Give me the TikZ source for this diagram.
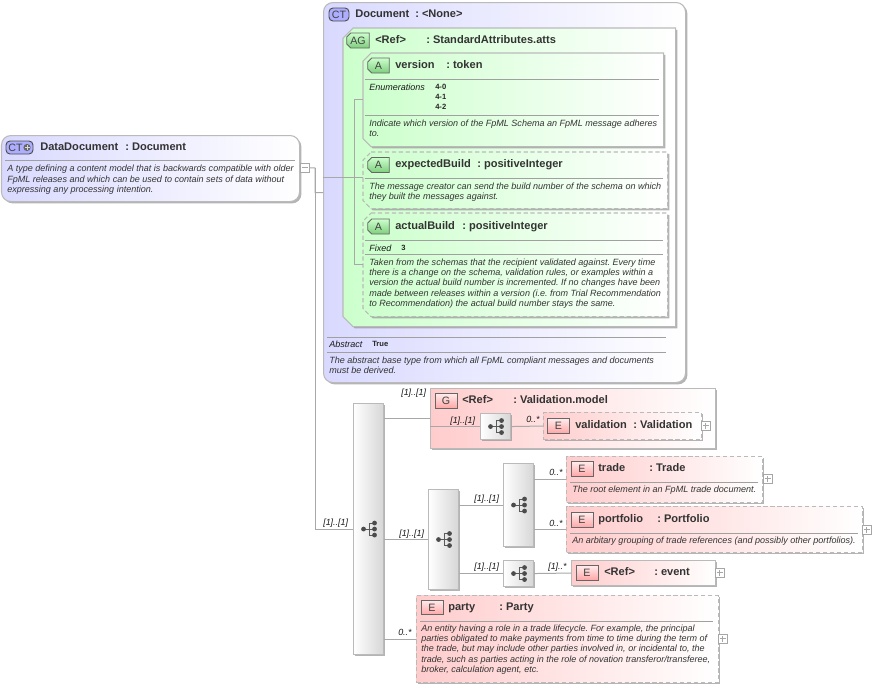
\documentclass[tikz,border=0pt]{standalone}
\usepackage{fontspec}
\setmainfont{Liberation Sans}
\usetikzlibrary{shadows}
\frenchspacing
\definecolor{titlegray}{HTML}{333333}
\definecolor{rulegray}{HTML}{A0A0A0}
\definecolor{linegray}{HTML}{A8A8A8}
\definecolor{ctblue}{HTML}{D9D9FF}
\definecolor{agreen}{HTML}{CCFFCC}
\definecolor{epink}{HTML}{FFCCCC}
\tikzset{
	sized/.style 2 args={minimum width=#1*.75pt,minimum height=#2*.75pt,inner sep=0pt,anchor=north west},
	boxshadow/.style={drop shadow={shadow xshift=1.4pt,shadow yshift=-1.4pt,fill=black!45,opacity=.65}},
	outline/.style={draw=black!27,line width=.8pt},
	optional/.style={dash pattern=on 3.2pt off 2pt},
	ctbox/.style={outline,rounded corners=7pt,left color=ctblue,right color=white,boxshadow},
	agbox/.style={outline,left color=agreen,right color=white,boxshadow},
	elbox/.style={outline,left color=epink,right color=white,boxshadow},
	seqbox/.style={draw=black!27,line width=.8pt,left color=white,right color=black!16,boxshadow},
	conn/.style={draw=linegray,line width=.75pt},
	hrule/.style={draw=rulegray,line width=.75pt},
	badgetext/.style={inner sep=0pt,font=\fontsize{8}{9}\selectfont,text=black!75},
	badge/.style 2 args={sized={#1}{#2},anchor=center,line width=.7pt,badgetext},
	ctbadge/.style={badge={#1}{13},draw=black!70,rounded corners=3pt,fill=ctblue!80!blue},
	agbadge/.style={draw=black!60,line width=.7pt,top color=agreen,bottom color=green!45!gray!70},
	ebadge/.style={badge={22}{14.5},draw=black!60,top color=epink!40,bottom color=red!35!white},
	titletext/.style={anchor=base west,inner sep=0pt,font=\fontsize{8.3}{10}\bfseries\selectfont,text=titlegray},
	desctext/.style={anchor=north west,inner sep=0pt,align=left,font=\fontsize{6.78}{7.75}\itshape\selectfont,text=black!80},
	keytext/.style={anchor=base west,inner sep=0pt,font=\fontsize{6.75}{7.75}\itshape\selectfont,text=black!90},
	valtext/.style={anchor=north west,inner sep=0pt,align=left,font=\fontsize{5.7}{7.5}\bfseries\selectfont,text=black!85},
	cardtext/.style={anchor=base west,inner sep=0pt,font=\fontsize{6.7}{8}\itshape\selectfont,text=black!90},
	expander/.style={draw=black!35,line width=.6pt,fill=white,minimum size=6.6pt,inner sep=0pt,anchor=north west},
	plusbox/.style={expander,path picture={
		\draw[black!35,line width=.6pt] ([xshift=-2.2pt]path picture bounding box.center) -- ([xshift=2.2pt]path picture bounding box.center)
		([yshift=-2.2pt]path picture bounding box.center) -- ([yshift=2.2pt]path picture bounding box.center);}},
	minusbox/.style={expander,path picture={
		\draw[black!35,line width=.6pt] ([xshift=-2.2pt]path picture bounding box.center) -- ([xshift=2.2pt]path picture bounding box.center);}},
	seqicon/.pic={
		\draw[black!65,line width=.6pt] (-5,0) -- (1,0) (6,-6) -- (1,-6) -- (1,6) -- (6,6) (1,0) -- (6,0);
		\fill[black!70] (-5,0) circle (1.8pt);
		\foreach \n in {-6,0,6}
			\fill[black!70] (6,\n) circle (1.8pt);
	}
}
% rectangle with its two left corners cut off: style, node, size of the cut in pt
\newcommand{\chambox}[3]{
	\path[#1] ([xshift=#3pt]#2.north west) -- (#2.north east) -- (#2.south east) -- ([xshift=#3pt]#2.south west)
		-- ([yshift=#3pt]#2.south west) -- ([yshift=-#3pt]#2.north west) -- cycle;
}
\begin{document}
\begin{tikzpicture}[x=.75pt,y=-.75pt]
	\useasboundingbox (0,0) rectangle (872,687);

	% boxes
	\node[ctbox,sized={298}{66}] (datadoc) at (1,135) {};
	\node[ctbox,sized={362}{380}] (document) at (323,2) {};
	\node[sized={332}{298}] (atts) at (343,28) {};
	\chambox{agbox}{atts}{7.5}
	\node[sized={300}{93}] (version) at (363,53) {};
	\chambox{agbox}{version}{6}
	\node[sized={304}{56}] (expected) at (363,152) {};
	\chambox{agbox,optional}{expected}{6}
	\node[sized={304}{103}] (actual) at (363,213) {};
	\chambox{agbox,optional}{actual}{6}
	\node[elbox,sized={285}{60}] (valmodel) at (430,388) {};
	\node[elbox,optional,sized={158}{27}] (validation) at (543,412) {};
	\node[elbox,optional,sized={196}{46}] (trade) at (566,456) {};
	\node[elbox,optional,sized={296}{46}] (portfolio) at (566,506) {};
	\node[elbox,sized={144}{25}] (event) at (571,560) {};
	\node[elbox,optional,sized={302}{87}] (party) at (416,595) {};

	% sequence blocks
	\node[seqbox,sized={30}{251}] (mainseq) at (353,403) {};
	\node[seqbox,sized={30}{26}] (valseq) at (480,413) {};
	\node[seqbox,sized={30}{100}] (choiceseq) at (428,489) {};
	\node[seqbox,sized={30}{83}] (tradeseq) at (503,463) {};
	\node[seqbox,sized={30}{26}] (eventseq) at (503,560) {};
	\foreach \n in {mainseq,valseq,choiceseq,tradeseq,eventseq}
		\pic at (\n.center) {seqicon};

	% expand boxes
	\node[minusbox] (docminus) at (300,163) {};
	\node[plusbox] (validationplus) at (701,421) {};
	\node[plusbox] (tradeplus) at (763,474) {};
	\node[plusbox] (portfolioplus) at (862,525) {};
	\node[plusbox] (eventplus) at (715,568) {};
	\node[plusbox] (partyplus) at (718,634) {};

	% connectors
	\coordinate (docdrop) at (315,168);
	\coordinate (attsjoin) at (354,177.5);
	\draw[conn] (docminus.east) -- (docdrop) |- (document.west);
	\draw[conn] (docdrop) |- (mainseq.west);
	\draw[conn] (document.west |- attsjoin) -- (attsjoin);
	\draw[conn] (version.west) -| (attsjoin);
	\draw[conn] (attsjoin) |- (actual.west);
	\draw[conn] (attsjoin) -- (expected.west |- attsjoin);
	\draw[conn] (mainseq.east |- valmodel.west) -- (valmodel.west);
	\draw[conn] (valmodel.west |- valseq.west) -- (valseq.west);
	\draw[conn] (valseq.east) -- (validation.west);
	\draw[conn] (mainseq.east |- choiceseq.west) -- (choiceseq.west);
	\draw[conn] (mainseq.east |- party.west) -- (party.west);
	\draw[conn] (choiceseq.east |- tradeseq.west) -- (tradeseq.west);
	\draw[conn] (choiceseq.east |- eventseq.west) -- (eventseq.west);
	\draw[conn] (tradeseq.east |- trade.west) -- (trade.west);
	\draw[conn] (tradeseq.east |- portfolio.west) -- (portfolio.west);
	\draw[conn] (eventseq.east) -- (event.west);

	% rules
	\draw[hrule] (5,160) -- (295,160);
	\draw[hrule] (365,79) -- (659,79);
	\draw[hrule] (365,115.5) -- (659,115.5);
	\draw[hrule] (365,178) -- (663,178);
	\draw[hrule] (365,240.5) -- (663,240.5);
	\draw[hrule] (365,254.5) -- (663,254.5);
	\draw[hrule] (327,337) -- (666,337);
	\draw[hrule] (327,352) -- (666,352);
	\draw[hrule] (570,482) -- (758,482);
	\draw[hrule] (570,533) -- (858,533);
	\draw[hrule] (420,621) -- (713,621);

	% badges
	\node[ctbadge=27] (datadocbadge) at (19.5,147.5) {CT\kern6pt};
	\fill[black!60] (27,147.5) circle (2.7pt);
	\draw[black!15,line width=.4pt] (24.5,147.5) -- (29.5,147.5) (27,145) -- (27,150);
	\node[ctbadge=20] (documentbadge) at (339,14.5) {CT};
	\foreach \n/\x/\y/\w/\t in {attsbadge/358/40.5/22/AG,versionbadge/378.5/65.5/21/A,expectedbadge/378.5/165/21/A,actualbadge/378.5/226.5/21/A}{
		\node[sized={\w}{14.5},anchor=center] (\n) at (\x,\y) {};
		\chambox{agbadge}{\n}{3}
		\node[badgetext] (\n text) at (\n.center) {\t};
	}
	\node[ebadge] (valmodelbadge) at (446,401) {G};
	\node[ebadge] (validationbadge) at (558.5,426) {E};
	\node[ebadge] (tradebadge) at (582,469) {E};
	\node[ebadge] (portfoliobadge) at (582,520) {E};
	\node[ebadge] (eventbadge) at (587,573) {E};
	\node[ebadge] (partybadge) at (432,607.5) {E};

	% titles
	\node[titletext] (datadocname) at (40,150) {DataDocument};
	\node[titletext] (datadoctype) at (125,150) {: Document};
	\node[titletext] (documentname) at (355,17) {Document};
	\node[titletext] (documenttype) at (415,17) {: <None>};
	\node[titletext] (attsname) at (375,43) {<Ref>};
	\node[titletext] (attstype) at (426,43) {: StandardAttributes.atts};
	\node[titletext] (versionname) at (395,68) {version};
	\node[titletext] (versiontype) at (446,68) {: token};
	\node[titletext] (expectedname) at (395,167.5) {expectedBuild};
	\node[titletext] (expectedtype) at (477,167.5) {: positiveInteger};
	\node[titletext] (actualname) at (395,229) {actualBuild};
	\node[titletext] (actualtype) at (462,229) {: positiveInteger};
	\node[titletext] (valmodelname) at (462,403) {<Ref>};
	\node[titletext] (valmodeltype) at (513,403) {: Validation.model};
	\node[titletext] (validationname) at (575,428) {validation};
	\node[titletext] (validationtype) at (633,428) {: Validation};
	\node[titletext] (tradename) at (598,471) {trade};
	\node[titletext] (tradetype) at (649,471) {: Trade};
	\node[titletext] (portfolioname) at (598,522) {portfolio};
	\node[titletext] (portfoliotype) at (657,522) {: Portfolio};
	\node[titletext] (eventname) at (604,575.5) {<Ref>};
	\node[titletext] (eventtype) at (654,575.5) {: event};
	\node[titletext] (partyname) at (448,610) {party};
	\node[titletext] (partytype) at (499,610) {: Party};

	% descriptions
	\node[desctext] (datadocdesc) at (7,165) {A type defining a content model that is backwards compatible with older\\FpML releases and which can be used to contain sets of data without\\expressing any processing intention.};
	\node[keytext] (versionkey) at (369,90) {Enumerations};
	\node[valtext] (versionvals) at (435,84) {4-0\\4-1\\4-2};
	\node[desctext] (versiondesc) at (369,119.5) {Indicate which version of the FpML Schema an FpML message adheres\\to.};
	\node[desctext] (expecteddesc) at (369,182.5) {The message creator can send the build number of the schema on which\\they built the messages against.};
	\node[keytext] (actualkey) at (369,251) {Fixed};
	\node[valtext] (actualval) at (401,245) {3};
	\node[desctext] (actualdesc) at (369,258.5) {Taken from the schemas that the recipient validated against. Every time\\there is a change on the schema, validation rules, or examples within a\\version the actual build number is incremented. If no changes have been\\made between releases within a version (i.e. from Trial Recommendation\\to Recommendation) the actual build number stays the same.};
	\node[keytext] (documentkey) at (329,347) {Abstract};
	\node[valtext] (documentval) at (372,341) {True};
	\node[desctext] (documentdesc) at (329,356.5) {The abstract base type from which all FpML compliant messages and documents\\must be derived.};
	\node[desctext] (tradedesc) at (572,486) {The root element in an FpML trade document.};
	\node[desctext] (portfoliodesc) at (572,536.5) {An arbitary grouping of trade references (and possibly other portfolios).};
	\node[desctext] (partydesc) at (421,624.5) {An entity having a role in a trade lifecycle. For example, the principal\\parties obligated to make payments from time to time during the term of\\the trade, but may include other parties involved in, or incidental to, the\\trade, such as parties acting in the role of novation transferor/transferee,\\broker, calculation agent, etc.};

	% occurrence labels
	\node[cardtext] (valmodelcard) at (401,395) {[1]..[1]};
	\node[cardtext] (valseqcard) at (450,423) {[1]..[1]};
	\node[cardtext] (validationcard) at (526,422) {0..*};
	\node[cardtext] (maincard) at (323,525) {[1]..[1]};
	\node[cardtext] (choicecard) at (399,536) {[1]..[1]};
	\node[cardtext] (tradeseqcard) at (474,501) {[1]..[1]};
	\node[cardtext] (eventseqcard) at (474,569) {[1]..[1]};
	\node[cardtext] (tradecard) at (549,475) {0..*};
	\node[cardtext] (portfoliocard) at (549,526) {0..*};
	\node[cardtext] (eventcard) at (548,569) {[1]..*};
	\node[cardtext] (partycard) at (398,635) {0..*};
\end{tikzpicture}
\end{document}
